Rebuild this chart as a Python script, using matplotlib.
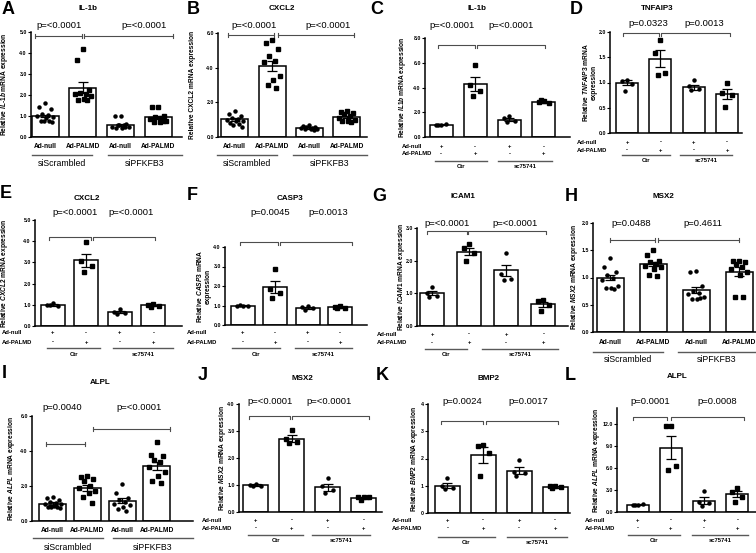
import numpy as np
import matplotlib
matplotlib.use("Agg")
import matplotlib.pyplot as plt
from matplotlib.lines import Line2D
from matplotlib import transforms

plt.rcParams['font.family'] = ['Liberation Sans', 'DejaVu Sans']
plt.rcParams['mathtext.fontset'] = 'custom'
plt.rcParams['mathtext.it'] = 'Liberation Sans:italic:bold'
plt.rcParams['mathtext.rm'] = 'Liberation Sans:bold'

W, H = 756, 553

# ---------------- data ----------------
A_mean = [1.0, 2.35, 0.58, 0.93]
A_sem = [0.07, 0.25, 0.05, 0.08]
A_pts = [[1.6, 1.45, 1.35, 1.1, 1.05, 1.0, 0.95, 0.9, 0.78, 0.75, 0.75, 0.72],
         [4.2, 3.65, 2.25, 2.1, 2.05, 2.05, 1.95, 1.8, 1.75, 1.75],
         [1.0, 1.0, 0.6, 0.58, 0.55, 0.5, 0.48, 0.45, 0.45, 0.5, 0.55],
         [1.45, 1.45, 1.0, 0.95, 0.9, 0.85, 0.75, 0.7, 0.7, 0.75]]

B_mean = [1.02, 4.1, 0.52, 1.15]
B_sem = [0.08, 0.3, 0.03, 0.08]
B_pts = [[1.5, 1.3, 1.2, 1.1, 1.05, 1.0, 0.95, 0.9, 0.8, 0.75, 0.7, 0.6],
         [5.6, 5.4, 5.1, 4.7, 4.4, 4.3, 3.5, 3.3, 3.0, 2.8],
         [0.7, 0.65, 0.6, 0.55, 0.5, 0.5, 0.48, 0.45, 0.45, 0.4],
         [1.5, 1.45, 1.4, 1.35, 1.2, 1.1, 1.0, 0.95, 0.9, 0.85]]

C_mean = [1.0, 4.3, 1.4, 2.8]
C_sem = [0.03, 0.55, 0.1, 0.05]
C_pts = [[1.0, 0.98, 1.02, 1.0], [5.8, 4.2, 3.7, 3.3],
         [1.7, 1.5, 1.3, 1.2], [2.9, 2.8, 2.75, 3.0]]

D_mean = [1.0, 1.47, 0.91, 0.77]
D_sem = [0.05, 0.17, 0.05, 0.1]
D_pts = [[1.05, 1.02, 0.97, 0.83], [1.85, 1.58, 1.18, 1.15],
         [1.05, 0.93, 0.88, 0.85], [1.0, 0.8, 0.75, 0.52]]

E_mean = [1.0, 3.1, 0.65, 0.97]
E_sem = [0.05, 0.3, 0.05, 0.04]
E_pts = [[1.1, 1.0, 0.95, 1.0], [3.95, 3.05, 2.85, 2.55],
         [0.8, 0.65, 0.6, 0.58], [1.05, 1.0, 0.92, 0.9]]

F_mean = [1.0, 1.95, 0.87, 0.9]
F_sem = [0.01, 0.3, 0.04, 0.03]
F_pts = [[1.0, 1.0, 1.0, 1.02], [2.85, 1.85, 1.65, 1.4],
         [0.95, 0.9, 0.85, 0.78], [0.95, 0.93, 0.88, 0.85]]

G_mean = [1.0, 2.28, 1.7, 0.67]
G_sem = [0.06, 0.1, 0.18, 0.08]
G_pts = [[1.2, 1.0, 0.92, 0.88], [2.5, 2.4, 2.25, 1.98],
         [2.25, 1.6, 1.45, 1.4], [0.8, 0.78, 0.65, 0.45]]

H_mean = [1.0, 1.25, 0.77, 1.11]
H_sem = [0.05, 0.04, 0.06, 0.08]
H_pts = [[1.35, 1.2, 1.1, 1.05, 1.0, 0.95, 0.85, 0.8, 0.8, 0.78],
         [1.5, 1.42, 1.3, 1.28, 1.25, 1.22, 1.2, 1.15, 1.05, 1.02],
         [1.12, 1.1, 0.85, 0.75, 0.72, 0.7, 0.65, 0.6, 0.6, 0.62],
         [1.3, 1.3, 1.28, 1.25, 1.2, 1.15, 1.1, 1.05, 0.65, 0.65]]

I_mean = [1.0, 1.88, 1.15, 3.15]
I_sem = [0.06, 0.15, 0.14, 0.25]
I_pts = [[1.4, 1.3, 1.2, 1.1, 1.05, 1.0, 0.95, 0.85, 0.8, 0.8, 0.78, 0.75],
         [2.6, 2.5, 2.4, 2.3, 2.0, 1.9, 1.7, 1.6, 1.4, 1.05],
         [2.1, 1.6, 1.3, 1.2, 1.1, 1.0, 0.9, 0.8, 0.7, 0.6],
         [4.5, 3.8, 3.7, 3.5, 3.4, 3.1, 2.8, 2.6, 2.3, 2.15]]

J_mean = [1.0, 2.72, 0.92, 0.53]
J_sem = [0.03, 0.12, 0.13, 0.03]
J_pts = [[1.05, 1.0, 0.98, 0.95], [3.05, 2.7, 2.6, 2.55],
         [1.25, 0.95, 0.8, 0.7], [0.55, 0.55, 0.55, 0.45]]

K_mean = [1.0, 2.13, 1.55, 0.95]
K_sem = [0.1, 0.3, 0.13, 0.04]
K_pts = [[1.28, 0.98, 0.92, 0.88], [2.5, 2.45, 2.2, 1.35],
         [1.95, 1.5, 1.45, 1.35], [1.0, 0.98, 0.95, 0.9]]

L_mean = [1.0, 8.8, 1.55, 2.4]
L_sem = [0.05, 1.6, 0.45, 0.4]
L_pts = [[1.0, 1.0, 1.05, 0.95], [11.8, 11.7, 6.3, 5.7],
         [2.8, 1.3, 1.2, 0.8], [3.3, 2.7, 2.1, 1.4]]

P_LT = 'p=<0.0001'
names = ['Ad-null', 'Ad-PALMD', 'Ad-null', 'Ad-PALMD']
si_groups = ['siScrambled', 'siPFKFB3']
sc_groups = ['Ctr', 'sc75741']
null_signs = ['+', '-', '+', '-']
palmd_signs = ['-', '+', '-', '+']


def yl(gene, two_lines=False, italic=True):
    g = r'$\mathit{' + gene + '}$' if italic else gene
    sep = '\n' if two_lines else ' '
    return 'Relative ' + g + ' mRNA' + sep + 'expression'


fig = plt.figure(figsize=(7.56, 5.53), dpi=100)


def spread(n):
    pattern = [0.0, -0.22, 0.22, -0.11, 0.11, -0.3, 0.3, 0.05, -0.16, 0.16, -0.05, 0.26]
    return np.array(pattern[:n])


def fline(x0, x1, y, color='0.35', lw=1.0):
    fig.add_artist(Line2D([x0 / W, x1 / W], [1 - y / H, 1 - y / H],
                          transform=fig.transFigure, color=color, lw=lw))


def draw_panel(letter, title, ylabel, means, sems, pts, pvals, yticks, ytl, groups, lay):
    left, right, top, bottom = lay['box']
    ytop = lay['ytop']
    s = (lay['c4'] - lay['c1']) / 3.0
    xlo = -(lay['c1'] - left) / s
    xhi = 3 + (right - lay['c4']) / s
    ax = fig.add_axes([left / W, 1 - bottom / H, (right - left) / W, (bottom - top) / H])
    ax.set_xlim(xlo, xhi)
    ax.set_ylim(0, ytop)
    x = np.arange(4)
    bw = lay['bw'] / s
    ax.bar(x, means, width=bw, color='white', edgecolor='black', linewidth=1.1, zorder=1)
    ax.errorbar(x, means, yerr=sems, fmt='none', ecolor='black', elinewidth=0.9,
                capsize=3.3, capthick=0.9, zorder=3)
    for i in range(4):
        vals = np.array(pts[i])
        offs = spread(len(vals)) * bw
        ax.plot(x[i] + offs, vals, ls='none', marker='o' if i % 2 == 0 else 's',
                ms=2.2, color='black', zorder=4, clip_on=False)
    for sp in ['top', 'right']:
        ax.spines[sp].set_visible(False)
    for sp in ['left', 'bottom']:
        ax.spines[sp].set_linewidth(1.1)
    ax.set_xticks([])
    ax.set_yticks(yticks)
    ax.set_yticklabels(ytl, fontsize=3.8, fontweight='bold')
    ax.tick_params(axis='y', length=2, width=0.8, pad=1)

    # significance brackets
    dy = 3.0 * ytop / (bottom - top)
    for (bx0, bx1, by) in lay['brackets']:
        if lay['style'] == 'cap':
            ax.plot([bx0, bx1], [by, by], color='0.3', lw=0.8, clip_on=False)
            for bx in (bx0, bx1):
                ax.plot([bx, bx], [by - dy * 0.6, by + dy * 0.6], color='0.3', lw=0.8, clip_on=False)
        else:
            ax.plot([bx0, bx0, bx1, bx1], [by - dy, by, by, by - dy], color='0.3', lw=0.8, clip_on=False)
    tr = transforms.blended_transform_factory(ax.transData, fig.transFigure)
    for px_, txt in zip(lay['ptx'], pvals):
        ax.text(px_, 1 - lay['pty'] / H, txt, transform=tr, ha='center', va='center', fontsize=6.8)

    # titles, letter, y label
    fig.text(lay['title'][0] / W, 1 - lay['title'][1] / H, title, ha='center', va='center',
             fontsize=5.8, fontweight='bold')
    fig.text(lay['letter'][0] / W, 1 - lay['letter'][1] / H, letter, ha='center', va='center',
             fontsize=13, fontweight='bold')
    fig.text(lay['ylab_x'] / W, 1 - (top + bottom) / 2 / H, ylabel, rotation=90, ha='center',
             va='center', fontsize=4.8, fontweight='bold', linespacing=1.1)

    # x-axis annotations
    if lay['xl'] == 'names':
        for i in range(4):
            ax.text(x[i], 1 - lay['names_y'] / H, names[i], transform=tr, ha='center',
                    va='center', fontsize=4.8, fontweight='bold')
        for (sx0, sx1), g in zip(lay['segs'], groups):
            fline(sx0, sx1, lay['line_y'])
            fig.text((sx0 + sx1) / 2 / W, 1 - lay['grp_y'] / H, g, ha='center', va='center', fontsize=6.3)
    else:
        r1, r2 = lay['rows']
        fig.text(lay['lx'] / W, 1 - r1 / H, 'Ad-null', ha='left', va='center', fontsize=4.2, fontweight='bold')
        fig.text(lay['lx'] / W, 1 - r2 / H, 'Ad-PALMD', ha='left', va='center', fontsize=4.2, fontweight='bold')
        for i in range(4):
            ax.text(x[i], 1 - r1 / H, null_signs[i], transform=tr, ha='center', va='center',
                    fontsize=4.2, fontweight='bold')
            ax.text(x[i], 1 - r2 / H, palmd_signs[i], transform=tr, ha='center', va='center',
                    fontsize=4.2, fontweight='bold')
        for (sx0, sx1), g in zip(lay['segs'], groups):
            fline(sx0, sx1, lay['line_y'])
            fig.text((sx0 + sx1) / 2 / W, 1 - lay['grp_y'] / H, g, ha='center', va='center',
                     fontsize=4.2, fontweight='bold')
    return ax


def f1(v):
    return ['%.1f' % t for t in v]


# ---------------- layout (pixel positions) ----------------
LAY = {
    'A': dict(box=(31, 182, 32, 137), ytop=5, c1=45, c4=158.3, bw=27, style='cap',
              brackets=[(-0.27, 0.97, 4.8), (1.02, 3.38, 4.8)], ptx=(0.36, 2.63), pty=25,
              title=(88, 9), letter=(8, 10), ylab_x=5, xl='names', names_y=147, line_y=155,
              segs=[(32, 92), (108, 182)], grp_y=163),
    'B': dict(box=(218, 367, 33, 137), ytop=6, c1=234.7, c4=346.7, bw=27, style='cap',
              brackets=[(-0.17, 1.05, 5.9), (1.15, 3.2, 5.9)], ptx=(0.52, 2.51), pty=25,
              title=(282, 9), letter=(193, 10), ylab_x=193, xl='names', names_y=147, line_y=155,
              segs=[(217, 277), (293, 367)], grp_y=163),
    'C': dict(box=(425, 570, 38, 137), ytop=8, c1=441, c4=543.7, bw=23, style='down',
              brackets=[(-0.1, 0.99, 7.4), (1.04, 3.05, 7.4)], ptx=(0.31, 2.04), pty=25,
              title=(477, 9), letter=(377, 9), ylab_x=403, xl='pm', rows=(147, 154), lx=402,
              line_y=161, segs=[(435, 487), (498, 552)], grp_y=166),
    'D': dict(box=(610, 742, 32, 133), ytop=2, c1=627, c4=727, bw=22, style='down',
              brackets=[(-0.13, 0.95, 1.98), (1.02, 3.09, 1.98)], ptx=(0.64, 2.31), pty=23,
              title=(657, 9), letter=(576, 10), ylab_x=589, xl='pm', rows=(142, 150), lx=577,
              line_y=155, segs=[(622, 670), (680, 732)], grp_y=160),
    'E': dict(box=(35, 182, 220, 326), ytop=5, c1=52.7, c4=153.3, bw=24, style='down',
              brackets=[(-0.1, 1.15, 4.18), (1.2, 3.05, 4.18)], ptx=(0.67, 2.33), pty=213,
              title=(87, 198), letter=(6, 194), ylab_x=5, xl='pm', rows=(333, 342), lx=2,
              line_y=348, segs=[(47, 100), (113, 173)], grp_y=354),
    'F': dict(box=(225, 367, 247, 325), ytop=4, c1=242.7, c4=340, bw=24, style='down',
              brackets=[(-0.08, 1.1, 4.24), (1.15, 3.36, 4.24)], ptx=(0.84, 2.64), pty=213,
              title=(290, 198), letter=(192, 195), ylab_x=203, xl='pm', rows=(333, 342), lx=187,
              line_y=348, segs=[(232, 280), (295, 352)], grp_y=354),
    'G': dict(box=(417, 568, 228, 326), ytop=3, c1=432, c4=543.3, bw=24, style='down',
              brackets=[(-0.13, 0.94, 2.9), (0.98, 3.07, 2.9)], ptx=(0.41, 2.24), pty=223,
              title=(463, 197), letter=(379, 197), ylab_x=401, xl='pm', rows=(334, 343), lx=377,
              line_y=349, segs=[(425, 467), (482, 558)], grp_y=354),
    'H': dict(box=(593, 756, 223, 332), ytop=2, c1=610, c4=739, bw=27, style='cap',
              brackets=[(0.0, 1.04, 1.69), (1.12, 3.0, 1.69)], ptx=(0.49, 2.16), pty=223,
              title=(663, 197), letter=(571, 197), ylab_x=575, xl='names', names_y=342, line_y=352,
              segs=[(593, 663), (678, 756)], grp_y=359),
    'I': dict(box=(32, 193, 416, 521), ytop=6, c1=52.7, c4=156.7, bw=27, style='cap',
              brackets=[(-0.2, 0.93, 4.4), (1.17, 3.38, 5.25)], ptx=(0.28, 2.49), pty=408,
              title=(100, 383), letter=(4, 373), ylab_x=12, xl='names', names_y=530, line_y=538,
              segs=[(33, 103), (113, 193)], grp_y=548),
    'J': dict(box=(239, 382, 404, 512), ytop=4, c1=255.7, c4=363.7, bw=25, style='down',
              brackets=[(-0.18, 0.95, 3.54), (1.0, 3.16, 3.54)], ptx=(0.40, 2.04), pty=402,
              title=(302, 378), letter=(203, 376), ylab_x=222, xl='pm', rows=(520, 528), lx=202,
              line_y=535, segs=[(248, 303), (312, 370)], grp_y=541),
    'K': dict(box=(428, 570, 404, 513), ytop=4, c1=447.3, c4=555, bw=25, style='down',
              brackets=[(-0.18, 1.0, 3.38), (1.08, 3.08, 3.38)], ptx=(0.42, 2.26), pty=402,
              title=(488, 378), letter=(382, 376), ylab_x=414, xl='pm', rows=(520, 528), lx=392,
              line_y=537, segs=[(438, 495), (507, 567)], grp_y=542),
    'L': dict(box=(617, 756, 408, 512), ytop=14.2, c1=637.7, c4=737.3, bw=22, style='down',
              brackets=[(-0.15, 0.88, 13.0), (1.01, 3.2, 13.0)], ptx=(0.37, 2.40), pty=402,
              title=(677, 377), letter=(570, 376), ylab_x=597, xl='pm', rows=(520, 528), lx=585,
              line_y=535, segs=[(628, 680), (692, 748)], grp_y=541),
}

t5 = [0, 1, 2, 3, 4, 5]
t6 = [0, 2, 4, 6]
t8 = [0, 2, 4, 6, 8]
th = [0, 0.5, 1.0, 1.5, 2.0]
t4 = [0, 1, 2, 3, 4]
t3 = [0, 1, 2, 3]
t12 = [0, 3, 6, 9, 12]

draw_panel('A', 'IL-1b', r'Relative $\mathit{IL}$-$\mathit{1b}$ mRNA expression', A_mean, A_sem, A_pts,
           [P_LT, P_LT], t5, f1(t5), si_groups, LAY['A'])
draw_panel('B', 'CXCL2', yl('CXCL2', italic=False), B_mean, B_sem, B_pts,
           [P_LT, P_LT], t6, f1(t6), si_groups, LAY['B'])
draw_panel('C', 'IL-1b', yl('IL1b'), C_mean, C_sem, C_pts,
           [P_LT, P_LT], t8, f1(t8), sc_groups, LAY['C'])
draw_panel('D', 'TNFAIP3', yl('TNFAIP3', two_lines=True), D_mean, D_sem, D_pts,
           ['p=0.0323', 'p=0.0013'], th, f1(th), sc_groups, LAY['D'])
draw_panel('E', 'CXCL2', yl('CXCL2'), E_mean, E_sem, E_pts,
           [P_LT, P_LT], t5, f1(t5), sc_groups, LAY['E'])
draw_panel('F', 'CASP3', yl('CASP3', two_lines=True), F_mean, F_sem, F_pts,
           ['p=0.0045', 'p=0.0013'], t4, f1(t4), sc_groups, LAY['F'])
draw_panel('G', 'ICAM1', yl('ICAM1'), G_mean, G_sem, G_pts,
           [P_LT, P_LT], t3, f1(t3), sc_groups, LAY['G'])
draw_panel('H', 'MSX2', yl('MSX2'), H_mean, H_sem, H_pts,
           ['p=0.0488', 'p=0.4611'], th, f1(th), si_groups, LAY['H'])
draw_panel('I', 'ALPL', yl('ALPL'), I_mean, I_sem, I_pts,
           ['p=0.0040', P_LT], t6, f1(t6), si_groups, LAY['I'])
draw_panel('J', 'MSX2', yl('MSX2'), J_mean, J_sem, J_pts,
           [P_LT, P_LT], t4, f1(t4), sc_groups, LAY['J'])
draw_panel('K', 'BMP2', yl('BMP2'), K_mean, K_sem, K_pts,
           ['p=0.0024', 'p=0.0017'], t4, [str(t) for t in t4], sc_groups, LAY['K'])
draw_panel('L', 'ALPL', yl('ALPL'), L_mean, L_sem, L_pts,
           ['p=0.0001', 'p=0.0008'], t12, f1(t12), sc_groups, LAY['L'])

fig.savefig('out.png', dpi=100)
